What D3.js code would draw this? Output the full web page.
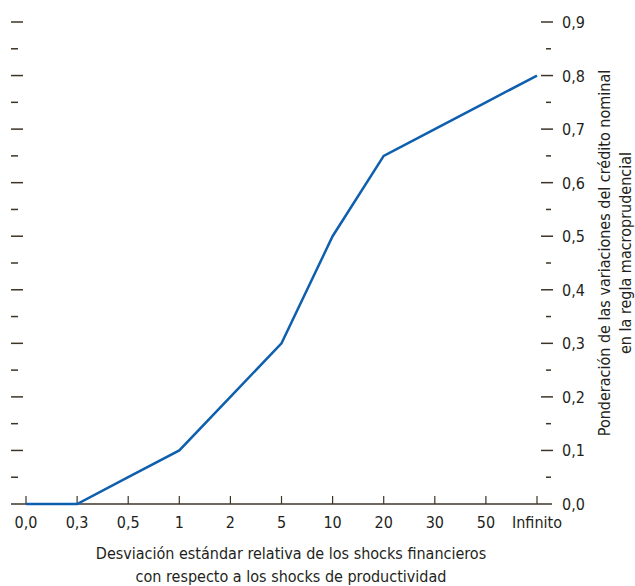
<!DOCTYPE html>
<html><head><meta charset="utf-8">
<script src="https://cdn.jsdelivr.net/npm/d3@7"></script>
<style>
body{margin:0;background:#fff;}
text{font-family:"Liberation Sans Narrow","DejaVu Sans Condensed","Roboto",sans-serif;fill:#231f20;}
</style></head>
<body><svg id="c" width="635" height="586"></svg>
<script>
const categories = ["0,0","0,3","0,5","1","2","5","10","20","30","50","Infinito"];
const values = [0, 0, 0.05, 0.1, 0.2, 0.3, 0.5, 0.65, 0.7, 0.75, 0.8];
const yTicks = [0,0.1,0.2,0.3,0.4,0.5,0.6,0.7,0.8,0.9];
const yMinor = [0.05,0.15,0.25,0.35,0.45,0.55,0.65,0.75,0.85];
const xTitle = ["Desviación estándar relativa de los shocks financieros","con respecto a los shocks de productividad"];
const yTitle = ["Ponderación de las variaciones del crédito nominal","en la regla macroprudencial"];

const svg = d3.select("#c");
const axisCol = "#3d3428";
const x = d3.scalePoint().domain(categories).range([26,537]);
const y = d3.scaleLinear().domain([0,0.9]).range([504,22]);

// x axis baseline
svg.append("line").attr("x1",11).attr("x2",552).attr("y1",y(0)).attr("y2",y(0))
  .attr("stroke",axisCol).attr("stroke-width",1.5);
const xg = svg.append("g");
xg.selectAll("line").data(categories).join("line")
  .attr("x1",d=>x(d)).attr("x2",d=>x(d)).attr("y1",y(0)).attr("y2",y(0)-8)
  .attr("stroke",axisCol).attr("stroke-width",1.2);
xg.selectAll("text").data(categories).join("text")
  .attr("x",d=>x(d)).attr("y",528).attr("text-anchor","middle")
  .attr("font-size",16).text(d=>d);

// left ticks
svg.append("g").selectAll("line").data(yTicks.filter(d=>d>0)).join("line")
  .attr("x1",11).attr("x2",23).attr("y1",d=>y(d)).attr("y2",d=>y(d))
  .attr("stroke",axisCol).attr("stroke-width",1.5);
svg.append("g").selectAll("line").data(yMinor).join("line")
  .attr("x1",11).attr("x2",18).attr("y1",d=>y(d)).attr("y2",d=>y(d))
  .attr("stroke",axisCol).attr("stroke-width",1.5);

// right ticks
svg.append("g").selectAll("line").data(yTicks.filter(d=>d>0)).join("line")
  .attr("x1",541).attr("x2",553).attr("y1",d=>y(d)).attr("y2",d=>y(d))
  .attr("stroke",axisCol).attr("stroke-width",1.5);
svg.append("g").selectAll("line").data(yMinor).join("line")
  .attr("x1",546).attr("x2",551).attr("y1",d=>y(d)).attr("y2",d=>y(d))
  .attr("stroke",axisCol).attr("stroke-width",1.5);
svg.append("g").selectAll("text").data(yTicks).join("text")
  .attr("x",562).attr("y",d=>y(d)+6).attr("font-size",16)
  .text(d=>d3.format(".1f")(d).replace(".",","));

// line
svg.append("path").datum(values.map((v,i)=>[categories[i],v]))
  .attr("fill","none").attr("stroke","#0e5fae").attr("stroke-width",2.5)
  .attr("d",d3.line().x(d=>x(d[0])).y(d=>y(d[1])));

// titles
svg.selectAll(".xt").data(xTitle).join("text")
  .attr("x",291).attr("y",(d,i)=>559+i*23).attr("text-anchor","middle")
  .attr("font-size",16).text(d=>d);
const yt = svg.append("g").attr("transform","translate(610,253) rotate(-90)");
yt.selectAll("text").data(yTitle).join("text")
  .attr("x",0).attr("y",(d,i)=>i*21).attr("text-anchor","middle")
  .attr("font-size",16).text(d=>d);
</script></body></html>
